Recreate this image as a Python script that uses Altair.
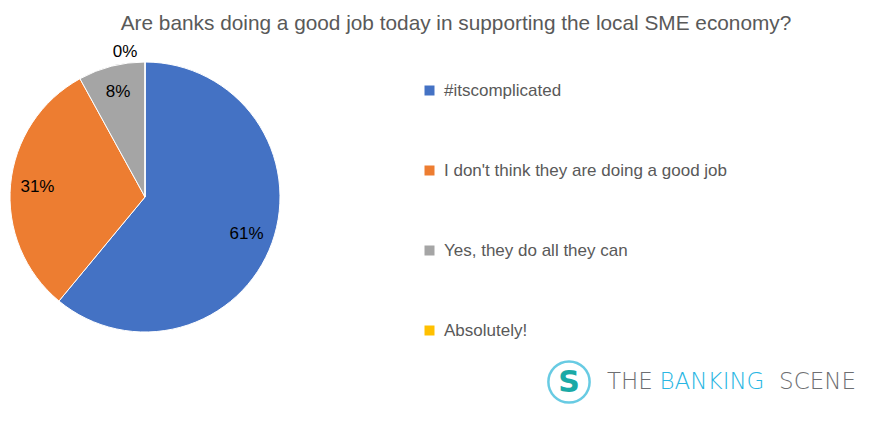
import altair as alt
import pandas as pd

categories = ["#itscomplicated", "I don't think they are doing a good job",
              "Yes, they do all they can", "Absolutely!"]
shares = [61, 31, 8, 0]
colors = ["#4472C4", "#ED7D31", "#A5A5A5", "#FFC000"]
title_text = "Are banks doing a good job today in supporting the local SME economy?"
logo_words = ["THE", "BANKING", "SCENE"]

FONT = "Liberation Sans"
W, H = 864, 409
CX, CY = 137, 189
R = 135

df = pd.DataFrame({"category": categories, "share": shares, "order": list(range(len(categories)))})
df["pct"] = [f"{s}%" for s in shares]

base = alt.Chart(df).encode(
    theta=alt.Theta("share:Q", stack=True),
    order=alt.Order("order:Q"),
    x=alt.value(CX),
    y=alt.value(CY),
)

pie = base.mark_arc(radius=R, stroke="white", strokeWidth=1).encode(
    color=alt.Color(
        "category:N",
        scale=alt.Scale(domain=categories, range=colors),
        sort=categories,
        legend=alt.Legend(
            title=None, orient="none", legendX=413, legendY=74,
            symbolType="square", symbolSize=100, symbolStrokeWidth=0,
            labelFontSize=17, labelColor="#595959", labelFont=FONT,
            rowPadding=62, labelOffset=6, labelLimit=400,
        ),
    )
)

labels = base.transform_filter("datum.share > 0").mark_text(
    radius=108, fontSize=17, font=FONT, color="#000000"
).encode(text="pct:N")

zero_labels = base.transform_filter("datum.share == 0").mark_text(
    radius=145, dx=-20, fontSize=17, font=FONT, color="#000000"
).encode(text="pct:N")

title = alt.Chart(pd.DataFrame({"t": [title_text]})).mark_text(
    fontSize=20.8, font=FONT, color="#595959", align="center", baseline="alphabetic"
).encode(text="t:N", x=alt.value(448), y=alt.value(22))

LOGO_FONT = "DejaVu Sans"
logo_df = pd.DataFrame({"w": logo_words})
logo_the = alt.Chart(logo_df).transform_filter("datum.w == 'THE'").mark_text(
    fontSize=23, font=LOGO_FONT, fontWeight=200, color="#6d6e71", align="left", baseline="middle"
).encode(text="w:N", x=alt.value(599), y=alt.value(374))
logo_banking = alt.Chart(logo_df).transform_filter("datum.w == 'BANKING'").mark_text(
    fontSize=23, font=LOGO_FONT, fontWeight=200, color="#29b6e3", align="center", baseline="middle"
).encode(text="w:N", x=alt.value(704), y=alt.value(374))
logo_scene = alt.Chart(logo_df).transform_filter("datum.w == 'SCENE'").mark_text(
    fontSize=23, font=LOGO_FONT, fontWeight=200, color="#6d6e71", align="right", baseline="middle"
).encode(text="w:N", x=alt.value(848), y=alt.value(374))

icon_df = pd.DataFrame({"s": ["S"]})
icon_ring = alt.Chart(icon_df).mark_point(
    shape="circle", size=1700, filled=False, stroke="#29b6d8", strokeWidth=2.5
).encode(x=alt.value(561), y=alt.value(374))
icon_s = alt.Chart(icon_df).mark_text(
    fontSize=30, font="DejaVu Sans", fontWeight="bold", color="#1aa9a6", baseline="middle", align="center"
).encode(text="s:N", x=alt.value(561), y=alt.value(375))

chart = alt.layer(
    pie, labels, zero_labels, title, icon_ring, icon_s, logo_the, logo_banking, logo_scene
).properties(
    width=W, height=H, padding=0, autosize=alt.AutoSizeParams(type="none")
).configure_view(stroke=None)

chart.save("out.html", embed_options={"renderer": "svg", "actions": False})
